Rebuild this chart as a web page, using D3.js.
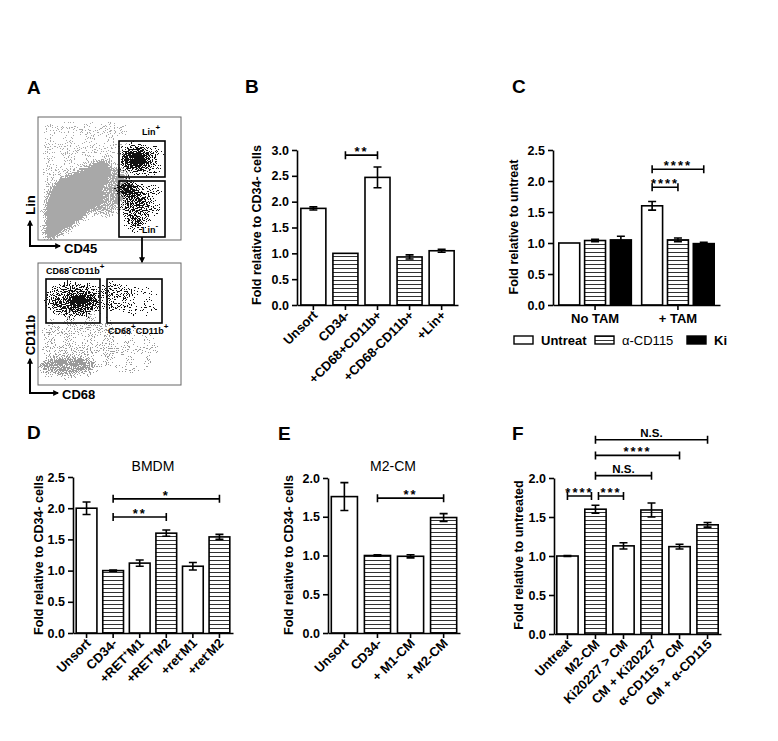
<!DOCTYPE html>
<html>
<head>
<meta charset="utf-8">
<script src="https://cdn.jsdelivr.net/npm/d3@7"></script>
<style>
body { margin: 0; background: #fff; }
svg { display: block; }
</style>
</head>
<body>
<svg id="fig" width="778" height="741"></svg>
<script>
var FONT = '"Liberation Sans", Arial, Helvetica, sans-serif';

// ---- panel B
var bCats = ["Unsort", "CD34-", "+CD68+CD11b+", "+CD68-CD11b+", "+Lin+"];
var bVals = [1.87, 1.0, 2.47, 0.93, 1.05];
var bErrs = [0.03, 0, 0.2, 0.04, 0.03];
var bHatch = [false, true, false, true, false];
var bSig = [{ from: 1, to: 2, y: 2.9, label: "**" }];

// ---- panel C (grouped)
var cGroups = ["No TAM", "+ TAM"];
var cSeries = ["Untreat", "\u03b1-CD115", "Ki"];
var cVals = [[1.0, 1.04, 1.05], [1.6, 1.05, 0.99]];
var cErrs = [[0, 0.02, 0.06], [0.07, 0.03, 0.02]];
var cSig = [
    { group: 1, from: 0, to: 1, y: 1.9, label: "****" },
    { group: 1, from: 0, to: 2, y: 2.19, label: "****" }
];

// ---- panel D  (^...^ marks superscript)
var dCats = ["Unsort", "CD34-", "+RET^+^M1", "+RET^+^M2", "+ret^-^M1", "+ret^-^M2"];
var dVals = [2.0, 1.0, 1.12, 1.6, 1.07, 1.54];
var dErrs = [0.1, 0.01, 0.05, 0.05, 0.06, 0.04];
var dHatch = [false, true, false, true, false, true];
var dSig = [
    { from: 1, to: 3, y: 1.86, label: "**" },
    { from: 1, to: 5, y: 2.15, label: "*" }
];

// ---- panel E
var eCats = ["Unsort", "CD34-", "+ M1-CM", "+ M2-CM"];
var eVals = [1.76, 1.0, 0.99, 1.49];
var eErrs = [0.18, 0.01, 0.02, 0.05];
var eHatch = [false, true, false, true];
var eSig = [{ from: 1, to: 3, y: 1.74, label: "**" }];

// ---- panel F
var fCats = ["Untreat", "M2-CM", "Ki20227 > CM", "CM + Ki20227", "\u03b1-CD115 > CM", "CM + \u03b1-CD115"];
var fVals = [1.0, 1.6, 1.13, 1.59, 1.12, 1.4];
var fErrs = [0.005, 0.05, 0.04, 0.09, 0.03, 0.03];
var fHatch = [false, true, false, true, false, true];
var fSig = [
    { from: 0, to: 1, y: 1.77, label: "****", d2: -4 },
    { from: 1, to: 2, y: 1.77, label: "***", d1: 3 },
    { from: 1, to: 3, y: 2.03, label: "N.S." },
    { from: 1, to: 4, y: 2.29, label: "****" },
    { from: 1, to: 5, y: 2.49, label: "N.S." }
];

var svg = d3.select("#fig");
svg.append("rect").attr("width", 778).attr("height", 741).attr("fill", "#fff");
var defs = svg.append("defs");

// horizontal stripe fill
var pat = defs.append("pattern").attr("id", "hatch")
    .attr("patternUnits", "userSpaceOnUse").attr("width", 8).attr("height", 4);
pat.append("rect").attr("width", 8).attr("height", 4).attr("fill", "#fff");
pat.append("line").attr("x1", 0).attr("x2", 8).attr("y1", 0.5).attr("y2", 0.5)
    .attr("stroke", "#333").attr("stroke-width", 1);

// arrow head
defs.append("marker").attr("id", "arr").attr("viewBox", "0 0 10 10")
    .attr("refX", 8).attr("refY", 5).attr("markerWidth", 6).attr("markerHeight", 6)
    .attr("orient", "auto").attr("markerUnits", "userSpaceOnUse")
    .append("path").attr("d", "M0,0L10,5L0,10z").attr("fill", "#000");

// clip regions for the two flow plots
defs.append("clipPath").attr("id", "clipTop").append("rect")
    .attr("x", 38).attr("y", 117).attr("width", 143).attr("height", 123);
defs.append("clipPath").attr("id", "clipBot").append("rect")
    .attr("x", 38).attr("y", 263).attr("width", 143).attr("height", 122);

// speckle filter -> dotted look for the flow plots
// dot density roughly follows the blurred alpha of the shapes
function speckle(id, color, blur, seed, gain) {
    var f = defs.append("filter").attr("id", id)
        .attr("x", "-40%").attr("y", "-40%").attr("width", "180%").attr("height", "180%")
        .attr("color-interpolation-filters", "sRGB");
    f.append("feGaussianBlur").attr("in", "SourceAlpha").attr("stdDeviation", blur).attr("result", "b");
    f.append("feTurbulence").attr("type", "fractalNoise").attr("baseFrequency", 0.95)
        .attr("numOctaves", 1).attr("seed", seed).attr("result", "t");
    f.append("feColorMatrix").attr("in", "t").attr("type", "matrix")
        .attr("values", "0 0 0 0 0  0 0 0 0 0  0 0 0 0 0  3.2 0 0 0 -1.1").attr("result", "n");
    f.append("feComposite").attr("in", "b").attr("in2", "n").attr("operator", "arithmetic")
        .attr("k1", 0).attr("k2", gain).attr("k3", -1).attr("k4", 0.44).attr("result", "m");
    f.append("feComponentTransfer").attr("in", "m").attr("result", "d")
        .append("feFuncA").attr("type", "discrete").attr("tableValues", "0 1");
    f.append("feFlood").attr("flood-color", color).attr("result", "c");
    f.append("feComposite").attr("in", "c").attr("in2", "d").attr("operator", "in");
}
speckle("spGray", "#a8a8a8", 3, 3, 1.5);
speckle("spGray2", "#9a9a9a", 3, 5, 1.1);
speckle("spBlack", "#111", 3, 11, 1.1);

function richText(t, str) {
    t.text(null);
    var up = false;
    str.split("^").forEach(function (p, i) {
        if (!p) return;
        var ts = t.append("tspan").text(p);
        if (i % 2 === 1) { ts.attr("font-size", 8).attr("dy", -5); up = true; }
        else if (up) { ts.attr("dy", 5); up = false; }
    });
}

function label(x, y, s) {
    svg.append("text").attr("x", x).attr("y", y).text(s)
        .attr("font-family", FONT).attr("font-weight", "bold").attr("font-size", 19);
}

function styleAxis(s) {
    s.attr("font-family", FONT).attr("font-size", 12.5).attr("font-weight", "bold");
    s.select(".domain").attr("stroke-width", 1.6);
    s.selectAll(".tick line").attr("stroke-width", 1.6);
    s.selectAll(".tick text").attr("fill", "#000");
}

function bracket(g, xa, xb, yy, txt) {
    g.append("path").attr("fill", "none").attr("stroke", "#000").attr("stroke-width", 1.6)
        .attr("d", "M" + xa + "," + (yy - 4) + "V" + (yy + 4) + "M" + xa + "," + yy + "H" + xb +
            "M" + xb + "," + (yy - 4) + "V" + (yy + 4));
    var star = txt.indexOf("*") >= 0;
    g.append("text").attr("x", (xa + xb) / 2).attr("y", star ? yy + 1 : yy - 3)
        .attr("text-anchor", "middle").attr("font-family", FONT).attr("font-weight", "bold")
        .attr("font-size", star ? 13 : 11.5).attr("letter-spacing", star ? 2 : 0).text(txt);
}

function errBar(g, cx, y, v, e) {
    if (!e) return;
    var a = y(v - e), b = y(v + e);
    g.append("path").attr("fill", "none").attr("stroke", "#000").attr("stroke-width", 1.6)
        .attr("d", "M" + cx + "," + a + "V" + b + "M" + (cx - 4) + "," + a + "H" + (cx + 4) +
            "M" + (cx - 4) + "," + b + "H" + (cx + 4));
}

function yLabel(g, x, y, s) {
    g.append("text").attr("transform", "translate(" + x + "," + y + ") rotate(-90)")
        .attr("text-anchor", "middle").attr("font-family", FONT).attr("font-weight", "bold")
        .attr("font-size", 12.5).text(s);
}

function barPanel(o) {
    var g = svg.append("g");
    var y = d3.scaleLinear().domain([0, o.yMax]).range([o.y0, o.yTop]);
    var x = d3.scaleBand().domain(o.cats).range([o.x0, o.x1]).paddingInner(o.pi).paddingOuter(o.po);

    g.selectAll(".bar").data(o.cats).enter().append("rect")
        .attr("class", "bar")
        .attr("x", function (d) { return x(d); })
        .attr("width", x.bandwidth())
        .attr("y", function (d, i) { return y(o.vals[i]); })
        .attr("height", function (d, i) { return y(0) - y(o.vals[i]); })
        .attr("fill", function (d, i) { return o.hatch[i] ? "url(#hatch)" : "#fff"; })
        .attr("stroke", "#000").attr("stroke-width", 1.6);

    o.cats.forEach(function (c, i) { errBar(g, x(c) + x.bandwidth() / 2, y, o.vals[i], o.errs[i]); });

    g.append("g").attr("transform", "translate(" + o.x0 + ",0)")
        .call(d3.axisLeft(y).tickValues(d3.range(0, o.yMax + 1e-9, 0.5))
            .tickFormat(d3.format(".1f")).tickSize(5).tickSizeOuter(0).tickPadding(3))
        .call(styleAxis);

    g.append("g").attr("transform", "translate(0," + o.y0 + ")")
        .call(d3.axisBottom(x).tickSize(5).tickSizeOuter(0))
        .call(styleAxis)
        .selectAll(".tick text")
        .attr("x", 0).attr("y", 0).attr("dy", 0)
        .attr("font-size", 13)
        .attr("text-anchor", "end")
        .attr("transform", "translate(5,11) rotate(-45)")
        .each(function (d) { richText(d3.select(this), d); });

    o.sig.forEach(function (s) {
        var xa = x(o.cats[s.from]) + x.bandwidth() / 2 + (s.d1 || 0);
        var xb = x(o.cats[s.to]) + x.bandwidth() / 2 + (s.d2 || 0);
        bracket(g, xa, xb, y(s.y), s.label);
    });

    yLabel(g, o.ylx, o.yly, o.ylabel);
    if (o.title) {
        g.append("text").attr("x", o.tx).attr("y", 471).attr("text-anchor", "middle")
            .attr("font-family", FONT).attr("font-size", 14).text(o.title);
    }
}

// ================= Panel A : flow plots
label(27, 94, "A");
(function () {
    var g = svg.append("g");
    // top plot, unit coords 0..100
    var tx = d3.scaleLinear().domain([0, 100]).range([38, 181]);
    var ty = d3.scaleLinear().domain([0, 100]).range([240, 117]);
    var line = d3.line().x(function (d) { return tx(d[0]); }).y(function (d) { return ty(d[1]); }).curve(d3.curveCardinalClosed);
    function ell(parent, cx, cy, rx, ry, op) {
        parent.append("ellipse").attr("cx", cx).attr("cy", cy).attr("rx", rx).attr("ry", ry)
            .attr("fill", "#000").attr("fill-opacity", op);
    }

    var top = g.append("g").attr("clip-path", "url(#clipTop)");
    var gray = top.append("g").attr("filter", "url(#spGray)");
    gray.append("rect").attr("x", tx(4)).attr("y", ty(95)).attr("width", tx(62) - tx(4)).attr("height", ty(42) - ty(95))
        .attr("fill", "#000").attr("fill-opacity", 0.1);
    gray.append("path").attr("fill", "#000")
        .attr("d", line([[6, 2], [6, 32], [12, 45], [22, 52], [36, 60], [46, 64], [50, 57], [44, 45], [40, 28], [26, 14], [14, 4]]));
    gray.append("path").attr("fill", "#000").attr("fill-opacity", 0.55)
        .attr("d", line([[36, 56], [58, 58], [63, 44], [58, 27], [42, 21], [34, 40]]));

    var black = top.append("g").attr("filter", "url(#spBlack)");
    ell(black, 135, 159, 14, 13, 0.9);
    ell(black, 151, 161, 11, 13, 0.35);
    ell(black, 128, 190, 10, 7, 1);
    ell(black, 136, 208, 13, 22, 0.55);
    ell(black, 152, 200, 10, 14, 0.2);

    g.append("rect").attr("x", 38).attr("y", 117).attr("width", 143).attr("height", 123)
        .attr("fill", "none").attr("stroke", "#666").attr("stroke-width", 1);
    g.append("rect").attr("x", 119).attr("y", 141).attr("width", 46).attr("height", 36)
        .attr("fill", "none").attr("stroke", "#000").attr("stroke-width", 1.6);
    g.append("rect").attr("x", 119).attr("y", 181).attr("width", 46).attr("height", 56)
        .attr("fill", "none").attr("stroke", "#000").attr("stroke-width", 1.6);

    var small = function (x, y, s) {
        var t = g.append("text").attr("x", x).attr("y", y).attr("font-family", FONT)
            .attr("font-weight", "bold").attr("font-size", 9);
        richText(t, s);
    };
    small(142, 135, "Lin^+^");
    small(142, 233, "Lin^-^");

    // bottom plot
    var bot = g.append("g").attr("clip-path", "url(#clipBot)");
    var gray2 = bot.append("g").attr("filter", "url(#spGray2)");
    ell(gray2, 80, 340, 38, 30, 0.2);
    ell(gray2, 67, 366, 28, 9, 0.8);
    ell(gray2, 130, 350, 30, 25, 0.08);
    var black2 = bot.append("g").attr("filter", "url(#spBlack)");
    ell(black2, 74, 300, 26, 16, 0.55);
    ell(black2, 80, 302, 15, 9, 0.7);
    ell(black2, 114, 296, 15, 12, 0.35);
    ell(black2, 140, 302, 20, 16, 0.1);

    g.append("rect").attr("x", 38).attr("y", 263).attr("width", 143).attr("height", 122)
        .attr("fill", "none").attr("stroke", "#666").attr("stroke-width", 1);
    g.append("rect").attr("x", 46).attr("y", 279).attr("width", 54).attr("height", 44)
        .attr("fill", "none").attr("stroke", "#000").attr("stroke-width", 1.6);
    g.append("rect").attr("x", 107).attr("y", 279).attr("width", 55).attr("height", 44)
        .attr("fill", "none").attr("stroke", "#000").attr("stroke-width", 1.6);
    small(46, 274, "CD68^-^CD11b^+^");
    small(108, 334, "CD68^+^CD11b^+^");

    // arrows
    g.append("path").attr("d", "M142,237V262").attr("stroke", "#000").attr("stroke-width", 1.8).attr("marker-end", "url(#arr)");
    g.append("path").attr("d", "M30,246V221").attr("stroke", "#000").attr("stroke-width", 2).attr("marker-end", "url(#arr)");
    g.append("path").attr("d", "M29,246H60").attr("stroke", "#000").attr("stroke-width", 2).attr("marker-end", "url(#arr)");
    g.append("path").attr("d", "M30,393V359").attr("stroke", "#000").attr("stroke-width", 2).attr("marker-end", "url(#arr)");
    g.append("path").attr("d", "M29,393H58").attr("stroke", "#000").attr("stroke-width", 2).attr("marker-end", "url(#arr)");

    var axt = function (x, y, s, rot) {
        g.append("text").attr("transform", "translate(" + x + "," + y + ")" + (rot ? " rotate(-90)" : ""))
            .attr("text-anchor", rot ? "middle" : "start").attr("font-family", FONT)
            .attr("font-weight", "bold").attr("font-size", 13).text(s);
    };
    axt(64, 253, "CD45", false);
    axt(35, 205, "Lin", true);
    axt(62, 399, "CD68", false);
    axt(35, 335, "CD11b", true);
})();

// ================= Panel B
label(245, 93, "B");
barPanel({
    cats: bCats, vals: bVals, errs: bErrs, hatch: bHatch, sig: bSig,
    x0: 297, x1: 458, pi: 0.22, po: 0.12, y0: 305, yMax: 3, yTop: 150,
    ylabel: "Fold relative to CD34- cells", ylx: 261, yly: 225
});

// ================= Panel C
label(512, 93, "C");
(function () {
    var g = svg.append("g");
    var y = d3.scaleLinear().domain([0, 2.5]).range([305, 150]);
    var x0 = d3.scaleBand().domain(cGroups).range([553, 720]).paddingInner(0.125).paddingOuter(0.07);
    var x1 = d3.scaleBand().domain(cSeries).range([0, x0.bandwidth()]).paddingInner(0.19);
    var fills = ["#fff", "url(#hatch)", "#000"];

    cGroups.forEach(function (grp, gi) {
        var gg = g.append("g").attr("transform", "translate(" + x0(grp) + ",0)");
        gg.selectAll("rect").data(cSeries).enter().append("rect")
            .attr("x", function (d) { return x1(d); })
            .attr("width", x1.bandwidth())
            .attr("y", function (d, i) { return y(cVals[gi][i]); })
            .attr("height", function (d, i) { return y(0) - y(cVals[gi][i]); })
            .attr("fill", function (d, i) { return fills[i]; })
            .attr("stroke", "#000").attr("stroke-width", 1.6);
        cSeries.forEach(function (s, i) {
            errBar(gg, x1(s) + x1.bandwidth() / 2, y, cVals[gi][i], cErrs[gi][i]);
        });
    });

    g.append("g").attr("transform", "translate(553,0)")
        .call(d3.axisLeft(y).tickValues(d3.range(0, 2.51, 0.5)).tickFormat(d3.format(".1f"))
            .tickSize(5).tickSizeOuter(0).tickPadding(3))
        .call(styleAxis);
    g.append("g").attr("transform", "translate(0,305)")
        .call(d3.axisBottom(x0).tickSize(5).tickSizeOuter(0).tickPadding(4))
        .call(styleAxis)
        .selectAll(".tick text").attr("font-size", 13);

    cSig.forEach(function (s) {
        var base = x0(cGroups[s.group]);
        var xa = base + x1(cSeries[s.from]) + x1.bandwidth() / 2;
        var xb = base + x1(cSeries[s.to]) + x1.bandwidth() / 2;
        bracket(g, xa, xb, y(s.y), s.label);
    });

    yLabel(g, 518, 227, "Fold relative to untreat");

    // legend
    var lx = [514, 595, 687];
    cSeries.forEach(function (s, i) {
        g.append("rect").attr("x", lx[i]).attr("y", 336).attr("width", 19).attr("height", 8)
            .attr("fill", fills[i]).attr("stroke", "#000").attr("stroke-width", 1.4);
        g.append("text").attr("x", lx[i] + 27).attr("y", 345).attr("font-family", FONT)
            .attr("font-weight", i === 1 ? "normal" : "bold").attr("font-size", 13).text(s);
    });
})();

// ================= Panel D
label(27, 439, "D");
barPanel({
    cats: dCats, vals: dVals, errs: dErrs, hatch: dHatch, sig: dSig,
    x0: 73, x1: 233, pi: 0.22, po: 0.12, y0: 633, yMax: 2.5, yTop: 477,
    ylabel: "Fold relative to CD34- cells", ylx: 43, yly: 555, title: "BMDM", tx: 153
});

// ================= Panel E
label(278, 440, "E");
barPanel({
    cats: eCats, vals: eVals, errs: eErrs, hatch: eHatch, sig: eSig,
    x0: 328, x1: 460, pi: 0.21, po: 0.1, y0: 633, yMax: 2, yTop: 478,
    ylabel: "Fold relative to CD34- cells", ylx: 293, yly: 555, title: "M2-CM", tx: 393
});

// ================= Panel F
label(512, 440, "F");
barPanel({
    cats: fCats, vals: fVals, errs: fErrs, hatch: fHatch, sig: fSig,
    x0: 554, x1: 721, pi: 0.24, po: 0.1, y0: 634, yMax: 2, yTop: 478,
    ylabel: "Fold relative to untreated", ylx: 523, yly: 555
});
</script>
</body>
</html>
